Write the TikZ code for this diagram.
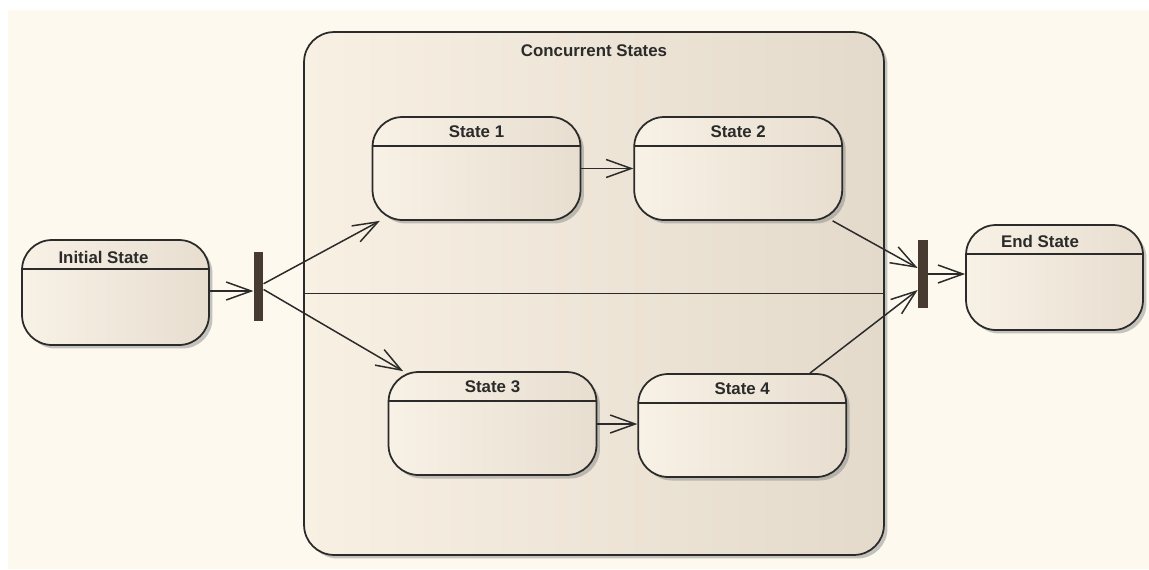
\documentclass[tikz,border=0pt]{standalone}
\usepackage{fontspec}
\setmainfont{Liberation Sans}
\usetikzlibrary{arrows.meta, positioning, shadows}
\definecolor{PaperCream}{HTML}{FDF9EF}
\definecolor{BoxLight}{HTML}{F8F1E5}
\definecolor{BoxDark}{HTML}{E7DED0}
\definecolor{RegionLight}{HTML}{F8F0E3}
\definecolor{RegionDark}{HTML}{E3DACB}
\definecolor{EdgeDark}{HTML}{2B2B2B}
\definecolor{BarBrown}{HTML}{473B31}

\begin{document}
\begin{tikzpicture}[x=0.02cm, y=-0.02cm,
        >={Straight Barb[length=0.5cm, width=0.36cm]},
        titletext/.style={font=\fontsize{9.6}{12}\selectfont\bfseries, text=EdgeDark, inner sep=0pt},
        statebox/.style={rectangle, draw=EdgeDark, line width=1pt, rounded corners=0.6cm,
            left color=BoxLight, right color=BoxDark, minimum width=4.16cm, minimum height=2.06cm,
            drop shadow={shadow xshift=0.07cm, shadow yshift=-0.07cm, opacity=0.45},
            path picture={\draw[EdgeDark, line width=0.9pt]
                ([yshift=-0.58cm]path picture bounding box.north west) --
                ([yshift=-0.58cm]path picture bounding box.north east);}},
        regionbox/.style={rectangle, draw=EdgeDark, line width=1pt, rounded corners=0.6cm,
            left color=RegionLight, right color=RegionDark,
            drop shadow={shadow xshift=0.07cm, shadow yshift=-0.07cm, opacity=0.45}},
        syncbar/.style={rectangle, fill=BarBrown, draw=none, minimum width=0.19cm, minimum height=1.37cm, inner sep=0pt},
        arrow/.style={->, line width=0.85pt, EdgeDark}]

    % paper
    \fill[white] (0,0) rectangle (1149,569);
    \fill[PaperCream] (8,10) rectangle (1149,569);
    \useasboundingbox (0,0) rectangle (1149,569);

    % composite state
    \node[regionbox, minimum width=11.6cm, minimum height=10.46cm] (conc) at (594,293.5) {};
    \node[titletext, below=0.27cm of conc.north] (conctitle) {Concurrent States};
    \draw[EdgeDark, line width=0.9pt] (conc.west) -- (conc.east);

    % states
    \node[statebox, minimum width=3.74cm, minimum height=2.1cm] (init) at (115.5,292.5) {};
    \node[titletext] at ([xshift=-0.24cm, yshift=-0.36cm]init.north) {Initial State};

    \node[statebox] (s1) at (476.5,168.5) {};
    \node[titletext] at ([yshift=-0.32cm]s1.north) {State 1};
    \node[statebox, right=1.04cm of s1] (s2) {};
    \node[titletext] at ([yshift=-0.32cm]s2.north) {State 2};

    \node[statebox] (s3) at (492.5,423.5) {};
    \node[titletext] at ([yshift=-0.32cm]s3.north) {State 3};
    \node[statebox, right=0.8cm of s3, yshift=-0.04cm] (s4) {};
    \node[titletext] at ([yshift=-0.32cm]s4.north) {State 4};

    \node[statebox, minimum width=3.54cm, minimum height=2.1cm] (endst) at (1054.5,277.5) {};
    \node[titletext] at ([xshift=-0.29cm, yshift=-0.34cm]endst.north) {End State};

    % fork and join
    \node[syncbar] (fork) at (258.5,286.5) {};
    \node[syncbar, minimum width=0.2cm, minimum height=1.36cm] (join) at (923,274) {};

    \draw[arrow] (init.east |- 0,291) -- (fork.west |- 0,291);
    \draw[arrow] (fork) -- (s1);
    \draw[arrow] (fork) -- (s3);
    \draw[arrow] (s1) -- (s2);
    \draw[arrow] (s3.east |- 0,424) -- (s4.west |- 0,424);
    \draw[arrow] (s2) -- ([yshift=0.12cm]join.west);
    \draw[arrow] (s4) -- ([yshift=-0.32cm]join.west);
    \draw[arrow] (join.east) -- (join.east -| endst.west);
\end{tikzpicture}
\end{document}
